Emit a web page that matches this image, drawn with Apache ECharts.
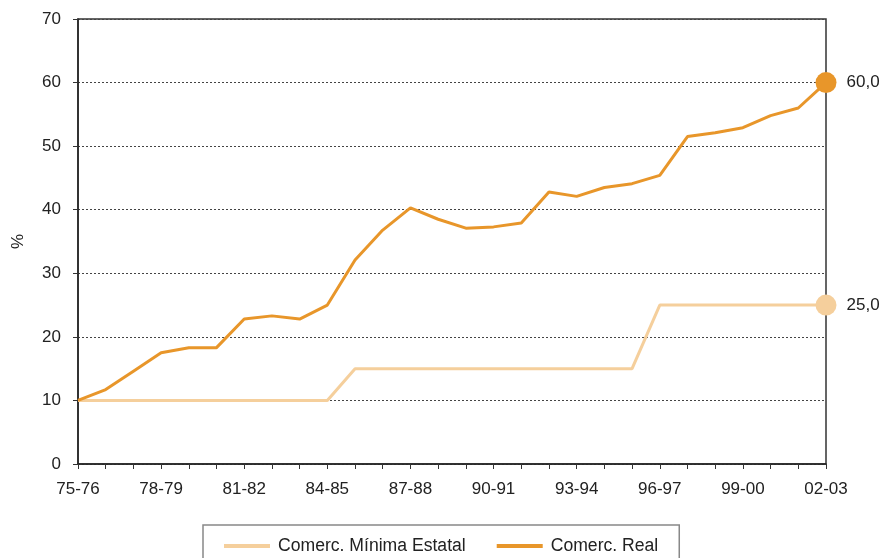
<!DOCTYPE html>
<html>
<head>
<meta charset="utf-8">
<script src="https://cdn.jsdelivr.net/npm/echarts@6/dist/echarts.min.js"></script>
<style>
  html, body { margin: 0; padding: 0; background: #fff; }
  #chart { width: 884px; height: 558px; }
</style>
</head>
<body>
<div id="chart"></div>
<script>
const years = [
  '75-76', '76-77', '77-78', '78-79', '79-80', '80-81', '81-82', '82-83', '83-84', '84-85',
  '85-86', '86-87', '87-88', '88-89', '89-90', '90-91', '91-92', '92-93', '93-94', '94-95',
  '95-96', '96-97', '97-98', '98-99', '99-00', '00-01', '01-02', '02-03'
];
const minimaEstatal = [
  10, 10, 10, 10, 10, 10, 10, 10, 10, 10,
  15, 15, 15, 15, 15, 15, 15, 15, 15, 15,
  15, 25, 25, 25, 25, 25, 25, 25
];
const comercReal = [
  10, 11.7, 14.6, 17.5, 18.3, 18.3, 22.8, 23.3, 22.8, 25.0,
  32.1, 36.8, 40.3, 38.5, 37.1, 37.3, 37.9, 42.8, 42.1, 43.5,
  44.1, 45.4, 51.5, 52.1, 52.9, 54.8, 56.0, 60.0
];
const seriesNames = ['Comerc. Mínima Estatal', 'Comerc. Real'];
const seriesColors = ['#f5cf9c', '#e8962a'];

const font = 'Liberation Sans, Arial, sans-serif';

// last point gets the big dot and the value label
function withEndMarker(values, color) {
  return values.map((v, i) => {
    if (i !== values.length - 1) return v;
    return {
      value: v,
      symbol: 'circle',
      symbolSize: 21,
      itemStyle: { color: color },
      label: {
        show: true,
        position: 'right',
        distance: 10,
        formatter: (p) => p.value.toFixed(1).replace('.', ','),
        color: '#222',
        fontFamily: font,
        fontSize: 17
      }
    };
  });
}

const chart = echarts.init(document.getElementById('chart'));
chart.setOption({
  animation: false,
  backgroundColor: '#fff',
  grid: {
    left: 78, right: 58, top: 19, bottom: 94,
    show: true, borderColor: '#333', borderWidth: 1.5, backgroundColor: 'transparent'
  },
  legend: {
    left: 203, top: 525,
    padding: [12, 21, 12, 21],
    borderColor: '#888', borderWidth: 1.5,
    itemWidth: 46, itemHeight: 4, itemGap: 31,
    icon: 'rect',
    textStyle: { color: '#222', fontFamily: font, fontSize: 17.6, padding: [0, 0, 0, 3] },
    data: seriesNames
  },
  xAxis: {
    type: 'category',
    data: years,
    boundaryGap: false,
    axisLine: { lineStyle: { color: '#222', width: 1.5 } },
    axisTick: { show: true, interval: 0, length: 5, lineStyle: { color: '#333' } },
    axisLabel: { interval: 2, margin: 17, color: '#222', fontFamily: font, fontSize: 17 },
    splitLine: { show: false }
  },
  yAxis: {
    type: 'value',
    min: 0, max: 70, interval: 10,
    name: '%',
    nameLocation: 'middle',
    nameGap: 51,
    nameTextStyle: { color: '#222', fontFamily: font, fontSize: 17 },
    axisLine: { show: true, lineStyle: { color: '#222', width: 1.5 } },
    axisTick: { show: true, length: 5, lineStyle: { color: '#333' } },
    axisLabel: { margin: 17, color: '#222', fontFamily: font, fontSize: 17 },
    splitLine: { show: true, lineStyle: { color: '#444', type: [2, 2], width: 1 } }
  },
  series: [
    {
      name: seriesNames[0],
      type: 'line',
      data: withEndMarker(minimaEstatal, seriesColors[0]),
      color: seriesColors[0],
      lineStyle: { width: 3, color: seriesColors[0] },
      showSymbol: true,
      symbol: 'none',
      clip: false,
      z: 3
    },
    {
      name: seriesNames[1],
      type: 'line',
      data: withEndMarker(comercReal, seriesColors[1]),
      color: seriesColors[1],
      lineStyle: { width: 3, color: seriesColors[1] },
      showSymbol: true,
      symbol: 'none',
      clip: false,
      z: 4
    }
  ]
});
</script>
</body>
</html>
